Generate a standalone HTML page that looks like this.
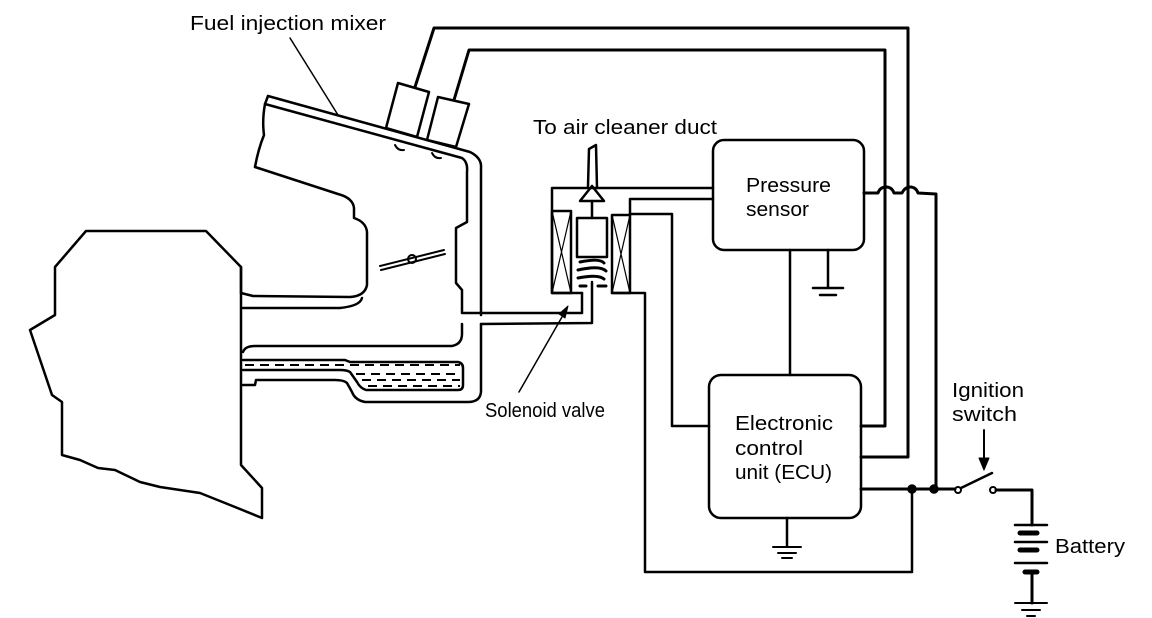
<!DOCTYPE html>
<html><head><meta charset="utf-8"><style>
html,body{margin:0;padding:0;background:#fff;}
svg{display:block;}
text{font-family:"Liberation Sans",sans-serif;fill:#000;}
</style></head><body>
<svg width="1152" height="618" viewBox="0 0 1152 618" xmlns="http://www.w3.org/2000/svg">
<g fill="none" stroke="#000" stroke-width="2.5" stroke-linejoin="round" stroke-linecap="round">
<path d="M86,231 L206,231 L241,267 L241,465 L262,488 L262,518 L235,507 L200,493 L160,487 L140,482 L115,470 L98,468 L80,460 L62,455 L62,402 L52,395 L30,330 L55,315 L55,267 Z"/>
<path d="M268,96 L470,152 Q482,158 481,168 L481,315"/>
<path d="M265,104 L462,158 Q468,162 467,172 L467,222 L456,228 L456,283 L462,290 L462,313 L582,313 L582,293"/>
<path d="M268,96 L265,104 Q262,120 264,135 Q258,150 255,167"/>
<path d="M255,167 L338,194 Q353,198 354,208 L354,218 Q366,222 367,232 L367,285 Q365,296 350,297 L253,296 L241,293"/>
<path d="M243,308 L340,308 Q360,306 362,298"/>
<path d="M481,324 L592,323 L592,282"/>
<path d="M481,324 L481,392 Q480,402 468,402 L365,402 Q355,400 352,392 L347,383 Q344,380 335,380 L256,380 L255,385 L243,385"/>
<path d="M243,352 Q245,346 255,346 L452,346 Q462,344 462,334 L462,324"/>
<path d="M243,360 L345,360 L350,362 L458,362 Q463,363 463,368 L463,385 Q463,390 458,390 L366,390 Q360,388 357,382 L350,372 Q347,370 340,370 L243,370"/>
<g stroke-width="2" stroke-dasharray="9,6" stroke-linecap="butt">
<path d="M245,365 L460,365"/>
<path d="M356,374 L460,374"/>
<path d="M362,380 L460,380"/>
<path d="M368,386 L460,386"/>
</g>
<path d="M241,293 L241,267"/>
<path d="M398,83 L429,92 L417,137 L386,128 Z"/>
<path d="M438,97 L469,104 L456,147 L427,140 Z"/>
<path d="M415,87 L434,28 L908,28 L908,457 L861,457" stroke-width="3"/>
<path d="M454,100 L469,50 L885,50 L885,426 L861,426" stroke-width="3"/>
<path d="M290,38 L338,115" stroke-width="1.5"/>
<path d="M380,266 L444,250 M381,270 L445,254" stroke-width="2"/>
<circle cx="412" cy="259" r="4" stroke-width="2"/>
<path d="M395,145 Q398,151 404,150 M432,153 Q435,159 441,158" stroke-width="2"/>
<path d="M713,188 L552,188 L552,293 L582,293"/>
<rect x="552" y="211" width="19" height="82"/>
<path d="M552,211 L571,293 M571,211 L552,293" stroke-width="1.2"/>
<rect x="612" y="215" width="18" height="78"/>
<path d="M612,215 L630,293 M630,215 L612,293" stroke-width="1.2"/>
<rect x="577" y="218" width="30" height="39"/>
<path d="M580,262 Q600,258 604,263 M578,270 Q600,265 606,271 M578,278 Q598,274 604,279 M580,286 L586,286 M598,286 L606,286" stroke-width="3"/>
<path d="M592,201 L592,218"/>
<path d="M592,186 L580,201 L604,201 Z"/>
<path d="M588,186 L589,149 L596,145 L597,188"/>
<path d="M612,293 L645,293 L645,572 L912,572 L912,489"/>
<path d="M713,199 L630,199 L630,215"/>
<path d="M630,214 L672,214 L672,426 L709,426"/>
<rect x="713" y="140" width="151" height="110" rx="11"/>
<path d="M790,250 L790,375"/>
<path d="M828,250 L828,287"/>
<path d="M813,288 L843,288 M820,295 L836,295" stroke-width="2.5"/>
<path d="M864,193 L878,193 Q880,187 886,187 Q892,187 894,193 L902,193 Q905,187 910,187 Q916,187 918,193 L936,194 L936,489" stroke-width="3"/>
<rect x="709" y="375" width="152" height="143" rx="12"/>
<path d="M787,518 L787,546"/>
<path d="M773,547 L801,547 M778,553 L796,553 M782,558 L792,558" stroke-width="2"/>
<path d="M861,489 L955,489" stroke-width="3"/>
<circle cx="912" cy="489" r="3.5" fill="#000"/>
<circle cx="934" cy="489" r="3.5" fill="#000"/>
<circle cx="958" cy="490" r="3" stroke-width="2"/>
<path d="M961,488 L992,473" stroke-width="2.5"/>
<circle cx="993" cy="490" r="3" stroke-width="2"/>
<path d="M996,490 L1032,490 L1032,525" stroke-width="3"/>
<path d="M984,430 L984,460" stroke-width="2"/>
<path d="M979,458 L984,470 L989,458 Z" fill="#000" stroke-width="1"/>
<path d="M1015,525 L1047,525 M1015,542 L1047,542 M1015,563 L1047,563" stroke-width="2.5"/>
<path d="M1020,533 L1037,533 M1020,550 L1037,550 M1025,572 L1037,572" stroke-width="5"/>
<path d="M1032,572 L1032,603" stroke-width="3"/>
<path d="M1015,603 L1047,603 M1022,610 L1040,610 M1027,616 L1035,616" stroke-width="2"/>
<path d="M519,392 L566,310" stroke-width="1.5"/>
<path d="M568,306 L559,314 L565,318 Z" fill="#000" stroke-width="1"/>
</g>
<g font-size="20">
<text x="190" y="30" textLength="196" lengthAdjust="spacingAndGlyphs">Fuel injection mixer</text>
<text x="533" y="134" textLength="184" lengthAdjust="spacingAndGlyphs">To air cleaner duct</text>
<text x="485" y="417" textLength="120" lengthAdjust="spacingAndGlyphs">Solenoid valve</text>
<text x="746" y="192" textLength="85" lengthAdjust="spacingAndGlyphs">Pressure</text>
<text x="746" y="216" textLength="63" lengthAdjust="spacingAndGlyphs">sensor</text>
<text x="735" y="430" textLength="98" lengthAdjust="spacingAndGlyphs">Electronic</text>
<text x="735" y="455" textLength="68" lengthAdjust="spacingAndGlyphs">control</text>
<text x="735" y="479" textLength="97" lengthAdjust="spacingAndGlyphs">unit (ECU)</text>
<text x="952" y="397" textLength="72" lengthAdjust="spacingAndGlyphs">Ignition</text>
<text x="952" y="421" textLength="65" lengthAdjust="spacingAndGlyphs">switch</text>
<text x="1055" y="553" textLength="70" lengthAdjust="spacingAndGlyphs">Battery</text>
</g>
</svg>
</body></html>
